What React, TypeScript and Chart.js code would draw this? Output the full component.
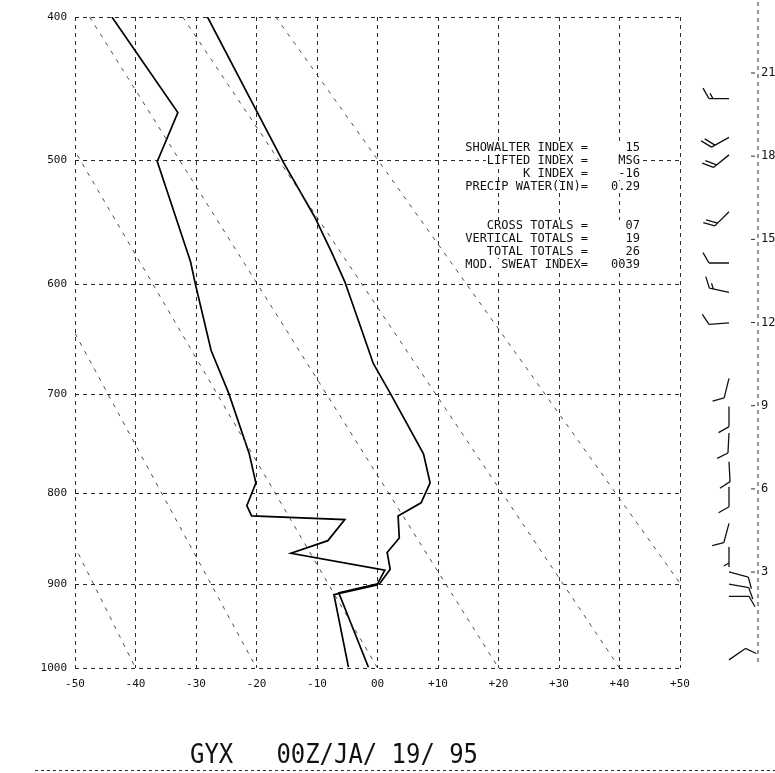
import React, { useEffect, useRef } from "react";
import { Chart, registerables } from "chart.js";

Chart.register(...registerables);

// ---- transforms (Stuve diagram: y ~ p^0.286) ----
const KAPPA = 0.286;
const toStuve = (p: number) => Math.pow(p, KAPPA);
const fromStuve = (v: number) => Math.pow(v, 1 / KAPPA);

// ---- axes ----
const pressureTicks = [400, 500, 600, 700, 800, 900, 1000];
const tempMin = -50;
const tempMax = 50;
const adiabatThetas = [-40, -20, 0, 20, 40, 60];

// ---- sounding: temperature ----
const tempPressure = [400, 502, 544, 574, 598, 639, 671, 698, 759, 789, 810, 824, 848, 864, 883, 899, 910, 999];
const tempValues = [-28.1, -15.5, -10.4, -7.5, -5.4, -2.7, -0.7, 2.0, 7.6, 8.7, 7.2, 3.4, 3.6, 1.6, 2.1, 0.4, -6.4, -1.5];

// ---- sounding: dewpoint ----
const dewPressure = [400, 465, 501, 581, 600, 659, 699, 759, 789, 813, 824, 828, 851, 865, 884, 901, 912, 999];
const dewValues = [-43.9, -33.0, -36.4, -30.9, -30.1, -27.5, -24.6, -21.2, -20.1, -21.6, -20.8, -5.4, -8.2, -14.3, 1.2, -0.1, -7.2, -4.8];

// ---- winds (pressure hPa, direction deg, speed kt) ----
const windPressure = [455, 483, 496, 540, 582, 607, 634, 685, 712, 738, 767, 793, 832, 858, 886, 900, 914, 990];
const windDirection = [270, 241, 231, 225, 270, 282, 266, 194, 180, 183, 177, 180, 195, 180, 105, 100, 90, 55];
const windSpeed = [15, 20, 20, 20, 10, 15, 10, 10, 10, 10, 10, 10, 10, 5, 10, 10, 10, 10];

// ---- height axis (kft) ----
const heightTicks = [3, 6, 9, 12, 15, 18, 21];
const heightMin = -0.46;
const heightMax = 23.02;

// ---- stability indices ----
const indexLabels = ["SHOWALTER INDEX =", "LIFTED INDEX =", "K INDEX =", "PRECIP WATER(IN)=", "", "", "CROSS TOTALS =", "VERTICAL TOTALS =", "TOTAL TOTALS =", "MOD. SWEAT INDEX="];
const indexValues = ["15", "MSG", "-16", "0.29", "", "", "07", "19", "26", "0039"];

const titleText = "GYX   00Z/JA/ 19/ 95";

const MONO = "'DejaVu Sans Mono', 'Liberation Mono', monospace";
const GRID = "#2b2b2b";

function drawBarb(ctx: CanvasRenderingContext2D, x: number, y: number, dir: number, spd: number) {
  const rad = (dir * Math.PI) / 180;
  const ux = Math.sin(rad);
  const uy = -Math.cos(rad);
  const nx = -uy;
  const ny = ux;
  const L = 20;
  const F = 12;
  const gap = 4;
  const fx = ux * 0.5 + nx * 0.87;
  const fy = uy * 0.5 + ny * 0.87;
  ctx.beginPath();
  ctx.moveTo(x, y);
  ctx.lineTo(x + ux * L, y + uy * L);
  const rounded = Math.round(spd / 5) * 5;
  const full = Math.floor(rounded / 10);
  const half = rounded % 10 >= 5;
  let pos = L;
  for (let i = 0; i < full; i++) {
    const bx = x + ux * pos;
    const by = y + uy * pos;
    ctx.moveTo(bx, by);
    ctx.lineTo(bx + fx * F, by + fy * F);
    pos -= gap;
  }
  if (half) {
    if (full === 0) pos -= gap;
    const bx = x + ux * pos;
    const by = y + uy * pos;
    ctx.moveTo(bx, by);
    ctx.lineTo(bx + fx * F * 0.5, by + fy * F * 0.5);
  }
  ctx.stroke();
}

const overlayPlugin = {
  id: "overlay",
  afterDraw(chart: any) {
    const ctx: CanvasRenderingContext2D = chart.ctx;
    const area = chart.chartArea;
    const yScale = chart.scales.y;
    const hScale = chart.scales.h;
    ctx.save();

    // stability index text block
    ctx.font = `12px ${MONO}`;
    ctx.textBaseline = "middle";
    const eqRight = area.right - 92;
    const valRight = area.right - 40;
    indexLabels.forEach((lab, i) => {
      const val = indexValues[i];
      if (!lab && !val) return;
      const yy = area.top + 131 + i * 13;
      const w = ctx.measureText(lab).width;
      ctx.fillStyle = "#ffffff";
      ctx.fillRect(eqRight - w - 1, yy - 6, valRight - (eqRight - w) + 2, 12);
      ctx.fillStyle = "#111";
      ctx.textAlign = "right";
      ctx.fillText(lab, eqRight, yy);
      ctx.fillText(val, valRight, yy);
    });

    // height axis
    const ax = area.right + 78;
    ctx.strokeStyle = GRID;
    ctx.lineWidth = 1;
    ctx.setLineDash([4, 4]);
    ctx.beginPath();
    ctx.moveTo(ax, area.top - 15);
    ctx.lineTo(ax, area.bottom - 6);
    ctx.stroke();
    ctx.setLineDash([]);
    ctx.font = `12px ${MONO}`;
    ctx.textAlign = "left";
    ctx.fillStyle = "#111";
    heightTicks.forEach((h) => {
      const py = hScale.getPixelForValue(h);
      ctx.beginPath();
      ctx.moveTo(ax - 7, py);
      ctx.lineTo(ax - 3, py);
      ctx.stroke();
      ctx.fillText(String(h), ax + 3, py);
    });

    // wind barbs
    ctx.strokeStyle = "#111";
    ctx.lineWidth = 1.3;
    const bx = area.right + 49;
    windPressure.forEach((p, i) => {
      const py = yScale.getPixelForValue(toStuve(p));
      drawBarb(ctx, bx, py, windDirection[i], windSpeed[i]);
    });

    // title
    ctx.fillStyle = "#111";
    ctx.textAlign = "left";
    ctx.textBaseline = "alphabetic";
    ctx.font = `26px ${MONO}`;
    ctx.save();
    ctx.translate(190, 763);
    ctx.scale(0.92, 1);
    ctx.fillText(titleText, 0, 0);
    ctx.restore();

    // bottom dashed rule
    ctx.strokeStyle = GRID;
    ctx.lineWidth = 1;
    ctx.setLineDash([3, 3]);
    ctx.beginPath();
    ctx.moveTo(35, 770.5);
    ctx.lineTo(chart.width, 770.5);
    ctx.stroke();
    ctx.restore();
  },
};

export default function App() {
  const canvasRef = useRef<HTMLCanvasElement | null>(null);

  useEffect(() => {
    document.body.style.margin = "0";
    const canvas = canvasRef.current;
    if (!canvas) return;

    const adiabatSets = adiabatThetas.map((theta) => {
      const pts = [400, 1000].map((p) => ({
        x: (theta + 273.15) * Math.pow(p / 1000, KAPPA) - 273.15,
        y: toStuve(p),
      }));
      return {
        data: pts,
        showLine: true,
        borderColor: "#3a3a3a",
        borderWidth: 0.9,
        borderDash: [4, 6],
        pointRadius: 0,
      };
    });

    const chart = new Chart(canvas, {
      type: "scatter",
      data: {
        datasets: [
          ...adiabatSets,
          {
            label: "Dewpoint",
            data: dewPressure.map((p, i) => ({ x: dewValues[i], y: toStuve(p) })),
            showLine: true,
            borderColor: "#000",
            borderWidth: 1.7,
            pointRadius: 0,
          },
          {
            label: "Temperature",
            data: tempPressure.map((p, i) => ({ x: tempValues[i], y: toStuve(p) })),
            showLine: true,
            borderColor: "#000",
            borderWidth: 1.7,
            pointRadius: 0,
          },
        ] as any,
      },
      options: {
        responsive: false,
        animation: false,
        devicePixelRatio: 1,
        events: [],
        layout: { padding: { left: 0, top: 17, right: 95, bottom: 75 } },
        plugins: { legend: { display: false }, tooltip: { enabled: false } },
        scales: {
          x: {
            type: "linear",
            min: tempMin,
            max: tempMax,
            afterFit: (s: any) => {
              s.height = 30;
            },
            ticks: {
              stepSize: 10,
              autoSkip: false,
              maxRotation: 0,
              padding: 10,
              color: "#111",
              font: { family: MONO, size: 11 },
              callback: (v: any) => (v === 0 ? "00" : v > 0 ? "+" + v : String(v)),
            },
            grid: { color: GRID, lineWidth: 1, drawTicks: false },
            border: { display: false, dash: [4, 4] },
          },
          y: {
            type: "linear",
            reverse: true,
            min: toStuve(400),
            max: toStuve(1000),
            afterFit: (s: any) => {
              s.width = 75;
            },
            afterBuildTicks: (s: any) => {
              s.ticks = pressureTicks.map((p) => ({ value: toStuve(p) }));
            },
            ticks: {
              padding: 8,
              color: "#111",
              font: { family: MONO, size: 11 },
              callback: (v: any) => String(Math.round(fromStuve(Number(v)))),
            },
            grid: { color: GRID, lineWidth: 1, drawTicks: false },
            border: { display: false, dash: [4, 4] },
          },
          h: {
            type: "linear",
            position: "right",
            display: false,
            min: heightMin,
            max: heightMax,
          },
        },
      } as any,
      plugins: [overlayPlugin],
    });

    return () => chart.destroy();
  }, []);

  return (
    <div style={{ width: 775, height: 773, background: "#fff" }}>
      <canvas ref={canvasRef} width={775} height={773} style={{ display: "block" }} />
    </div>
  );
}
